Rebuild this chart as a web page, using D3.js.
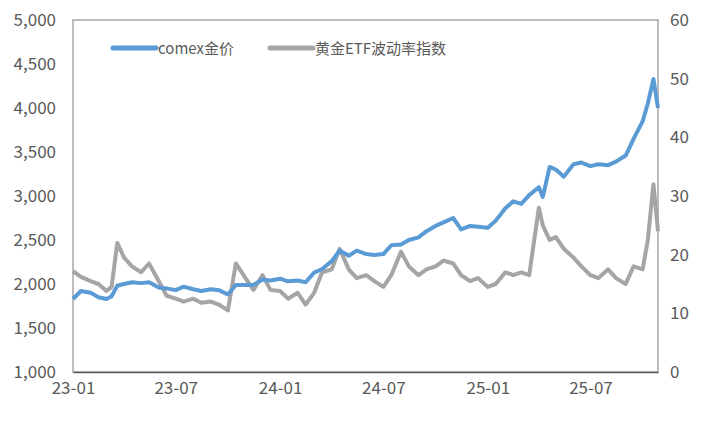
<!DOCTYPE html>
<html><head><meta charset="utf-8">
<script src="https://cdn.jsdelivr.net/npm/d3@7"></script>
<style>body{margin:0;background:#fff}text{font-family:"Noto Sans CJK SC","Liberation Sans",sans-serif}</style>
</head><body><svg id="c" width="712" height="427"></svg>
<script>
const dates = ["2023-01-01","2023-01-15","2023-02-01","2023-02-15","2023-03-01","2023-03-10","2023-03-20","2023-04-01","2023-04-15","2023-05-01","2023-05-15","2023-06-01","2023-06-15","2023-07-01","2023-07-15","2023-08-01","2023-08-15","2023-09-01","2023-09-15","2023-10-01","2023-10-15","2023-11-01","2023-11-15","2023-12-01","2023-12-15","2024-01-01","2024-01-15","2024-02-01","2024-02-15","2024-03-01","2024-03-15","2024-04-01","2024-04-15","2024-05-01","2024-05-15","2024-06-01","2024-06-15","2024-07-01","2024-07-15","2024-08-01","2024-08-15","2024-09-01","2024-09-15","2024-10-01","2024-10-15","2024-11-01","2024-11-15","2024-12-01","2024-12-15","2025-01-01","2025-01-15","2025-02-01","2025-02-15","2025-03-01","2025-03-15","2025-04-01","2025-04-08","2025-04-20","2025-05-01","2025-05-15","2025-06-01","2025-06-15","2025-07-01","2025-07-15","2025-08-01","2025-08-15","2025-09-01","2025-09-15","2025-10-01","2025-10-10","2025-10-20","2025-10-28"];
const gold = [1830,1920,1900,1850,1830,1860,1980,2000,2020,2010,2020,1960,1950,1930,1970,1940,1920,1940,1930,1880,1990,1990,1990,2050,2040,2060,2030,2040,2020,2130,2170,2260,2380,2320,2380,2340,2330,2340,2440,2450,2500,2530,2600,2660,2700,2750,2620,2660,2650,2640,2720,2860,2940,2910,3010,3100,2990,3330,3300,3220,3360,3380,3340,3360,3350,3390,3460,3650,3850,4050,4330,4000];
const vol = [17.2,16.2,15.5,15.0,13.8,14.5,22.0,19.5,18.0,17.0,18.5,15.5,13.0,12.5,12.0,12.5,11.8,12.0,11.5,10.5,18.5,16.0,14.0,16.5,14.0,13.8,12.5,13.5,11.5,13.5,17.0,17.5,21.0,17.5,16.0,16.5,15.5,14.5,16.5,20.5,18.0,16.5,17.5,18.0,19.0,18.5,16.5,15.5,16.0,14.5,15.0,17.0,16.5,17.0,16.5,28.0,25.0,22.5,23.0,21.0,19.5,18.0,16.5,16.0,17.5,16.0,15.0,18.0,17.5,22.5,32.0,24.0];
const leftTicks = [1000,1500,2000,2500,3000,3500,4000,4500,5000];
const rightTicks = [0,10,20,30,40,50,60];
const xTicks = ["23-01","23-07","24-01","24-07","25-01","25-07"];
const names = ["comex金价","黄金ETF波动率指数"];

const svg = d3.select("#c");
const L=73,R=658,T=20,B=372;
const parse = d3.timeParse("%Y-%m-%d");
const dd = dates.map(parse);
const x = d3.scaleTime().domain([parse("2023-01-01"), parse("2025-10-28")]).range([L,R]);
const yL = d3.scaleLinear().domain([1000,5000]).range([B,T]);
const yR = d3.scaleLinear().domain([0,60]).range([B,T]);
const tf = d3.timeParse("%y-%m");

svg.append("rect").attr("x",L).attr("y",T).attr("width",R-L).attr("height",B-T).attr("fill","none").attr("stroke","#a6a6a6").attr("stroke-width",1.5);

const ax = d3.axisBottom(x).tickValues(xTicks.map(tf)).tickFormat(d3.timeFormat("%y-%m")).tickSize(0).tickPadding(10);
const gx = svg.append("g").attr("transform",`translate(0,${B})`).call(ax);
gx.select(".domain").attr("stroke","#595959").attr("stroke-width",1.5);
gx.selectAll("text").attr("font-size",17).attr("fill","#595959");

const gl = svg.append("g").attr("transform",`translate(${L},0)`).call(d3.axisLeft(yL).tickValues(leftTicks).tickFormat(d3.format(",")).tickSize(0).tickPadding(17));
gl.select(".domain").remove();
gl.selectAll("text").attr("font-size",17).attr("fill","#595959");
const gr = svg.append("g").attr("transform",`translate(${R},0)`).call(d3.axisRight(yR).tickValues(rightTicks).tickSize(0).tickPadding(12));
gr.select(".domain").remove();
gr.selectAll("text").attr("font-size",17).attr("fill","#595959");

svg.append("path").attr("d",d3.line().x((d,i)=>x(dd[i])).y(d=>yR(d))(vol)).attr("fill","none").attr("stroke","#a5a5a5").attr("stroke-width",4).attr("stroke-linejoin","round");
svg.append("path").attr("d",d3.line().x((d,i)=>x(dd[i])).y(d=>yL(d))(gold)).attr("fill","none").attr("stroke","#5b9bd5").attr("stroke-width",4).attr("stroke-linejoin","round");

const lg=[{c:"#5b9bd5",x:113},{c:"#a5a5a5",x:270}];
lg.forEach((l,i)=>{
  svg.append("line").attr("x1",l.x).attr("x2",l.x+43).attr("y1",48).attr("y2",48).attr("stroke",l.c).attr("stroke-width",5).attr("stroke-linecap","round");
  svg.append("text").attr("x",l.x+45).attr("y",54).attr("font-size",15).attr("fill","#595959").text(names[i]);
});
</script></body></html>
